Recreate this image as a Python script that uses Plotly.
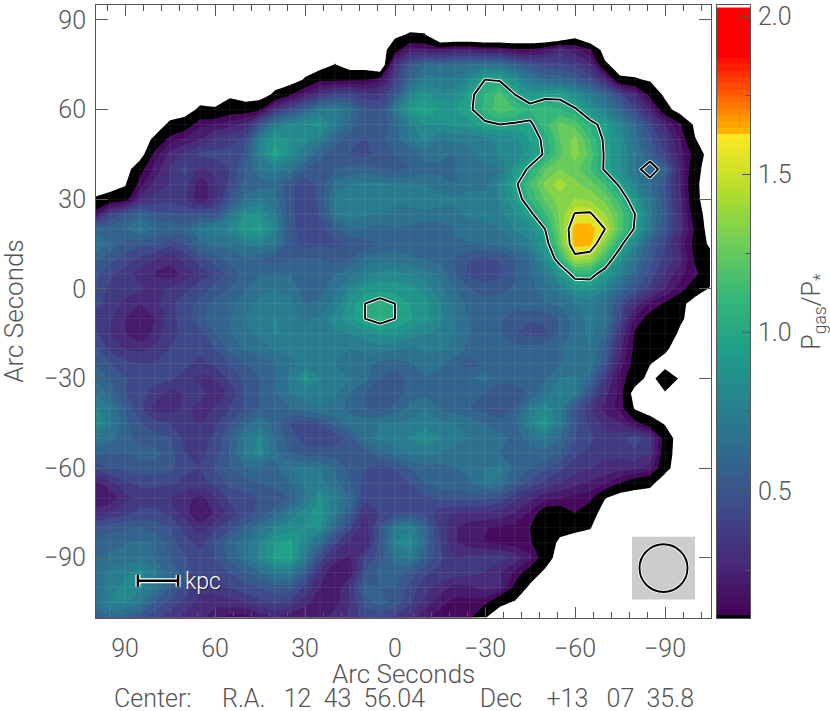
"""Gas to stellar pressure ratio map, contour fill with beam and scale bar."""

import numpy as np
import plotly.graph_objects as go
from plotly.colors import hex_to_rgb, sequential

# arcsec offsets of the map nodes, columns run east to west
ra_offset = list(range(100, -110, -5))
dec_offset = list(range(95, -115, -5))

# P_gas/P_* per row, top row first: (first column, values). None is off the map,
# small negatives just past the edge place the outline between two nodes
N = None
ratio_rows = [
    (0, []),
    (0, []),
    (20, [-.02, .01, .005, -.15, -.15, -.15, -.15, -.15, -.15, -.15, -.15, -.15, -.05, -.15]),
    (20, [.06, .22, .2, .17, .22, .22, .17, .17, .12, .12, .17, .3, .2, .12]),
    (16, [.005, N, N, -.12, .32, .52, .62, .62, .62, .64, .68, .66, .58, .5, .44, .42, .38, .28, .02]),
    (14, [.01, .09, .08, .09, .09, .15, .38, .6, .74, .72, .72, .82, 1.0, .98, .85, .72, .62, .6, .55, .45, .28, .02, .01, -.01]),
    (9, [-.02, N, N, .02, .09, .22, .32, .42, .42, .35, .35, .5, .78, .88, .8, .82, .97, 1.08, 1.18, 1.0, .88, .95, .96, .85, .72, .6, .42, .28, .08, -.02]),
    (7, [.02, .01, .06, .055, .09, .33, .45, .58, .72, .75, .65, .5, .48, .72, .92, 1.0, .92, .92, .98, 1.1, 1.2, 1.15, 1.08, 1.12, 1.08, 1.02, .88, .75, .6, .42, .25, .045]),
    (5, [.02, .055, .16, .18, .22, .28, .5, .72, .8, .85, .88, .72, .6, .5, .48, .6, .75, .85, .85, .88, .9, .97, 1.0, .98, .97, 1.12, 1.25, 1.2, 1.05, .95, .78, .62, .42, .25, .12, -.02]),
    (4, [.02, .14, .2, .25, .35, .38, .42, .75, .92, .85, .8, .75, .6, .5, .47, .52, .6, .7, .8, .7, .72, .72, .75, .8, .82, .93, 1.03, 1.22, 1.33, 1.15, .97, .84, .66, .5, .35, .18, .005]),
    (4, [.14, .28, .35, .42, .42, .42, .5, .78, .98, .82, .72, .58, .5, .47, .45, .5, .55, .58, .65, .65, .62, .68, .75, .78, .8, .9, 1.02, 1.2, 1.34, 1.2, .98, .85, .72, .55, .4, .22, .075]),
    (3, [.075, .2, .33, .42, .3, .35, .4, .55, .7, .75, .68, .55, .5, .55, .58, .6, .55, .52, .55, .6, .6, .62, .68, .68, .7, .9, 1.03, 1.22, 1.3, 1.26, 1.15, .98, .85, .7, .62, .58, .25, .035]),
    (2, [-.01, .14, .28, .33, .38, .2, .3, .42, .58, .58, .62, .5, .42, .5, .65, .7, .72, .72, .7, .7, .7, .66, .62, .66, .66, .8, .97, 1.15, 1.32, 1.42, 1.32, 1.26, 1.14, .97, .75, .62, .48, .25, .02]),
    (0, [.01, .045, .06, .28, .35, .38, .33, .2, .3, .5, .65, .72, .65, .5, .42, .5, .72, .78, .76, .72, .72, .72, .75, .72, .72, .75, .75, .78, .93, 1.08, 1.24, 1.34, 1.38, 1.36, 1.28, 1.1, .9, .7, .5, .28, .025]),
    (0, [.15, .4, .5, .6, .5, .48, .48, .5, .48, .68, .85, .85, .72, .5, .42, .48, .7, .75, .72, .7, .68, .68, .68, .68, .68, .72, .72, .75, .85, .97, 1.12, 1.32, 1.51, 1.52, 1.38, 1.2, 1.0, .72, .52, .3, .055]),
    (0, [.6, .6, .62, .72, .62, .6, .58, .72, .75, .8, .92, .96, .78, .52, .42, .44, .55, .62, .62, .6, .62, .6, .58, .58, .63, .66, .68, .7, .78, .82, 1.0, 1.3, 1.65, 1.65, 1.5, 1.2, .98, .7, .5, .3, .09]),
    (0, [.7, .62, .52, .5, .5, .42, .48, .6, .65, .65, .72, .75, .7, .5, .45, .47, .45, .5, .52, .55, .55, .55, .55, .58, .62, .62, .62, .65, .7, .76, .92, 1.25, 1.64, 1.63, 1.32, 1.05, .78, .55, .4, .22, .08, -.02]),
    (0, [.58, .5, .45, .38, .33, .28, .35, .45, .52, .58, .62, .55, .52, .55, .55, .55, .52, .55, .65, .68, .68, .65, .62, .6, .54, .47, .46, .48, .55, .62, .85, 1.08, 1.43, 1.38, 1.12, .88, .68, .52, .38, .28, .09, .045]),
    (0, [.5, .42, .35, .3, .24, .2, .28, .35, .42, .5, .58, .62, .62, .62, .6, .62, .62, .68, .75, .8, .8, .78, .74, .68, .55, .45, .42, .45, .54, .62, .72, .88, 1.06, 1.06, .93, .75, .6, .45, .32, .2, .12, .06]),
    (0, [.48, .38, .38, .34, .3, .34, .38, .44, .5, .55, .62, .68, .7, .66, .6, .6, .68, .8, .88, .9, .9, .88, .82, .72, .62, .55, .52, .53, .56, .6, .66, .74, .88, .9, .78, .62, .5, .38, .25, .14, .06, -.01]),
    (0, [.42, .38, .3, .25, .3, .38, .44, .5, .58, .6, .68, .72, .76, .72, .62, .64, .72, .88, 1.0, 1.06, 1.0, .92, .88, .78, .68, .6, .58, .58, .58, .6, .62, .64, .7, .72, .66, .46, .3, .16, .09, .035]),
    (0, [.38, .34, .25, .2, .25, .36, .45, .52, .62, .62, .7, .75, .78, .75, .68, .72, .82, .9, 1.0, 1.06, 1.0, .94, .88, .8, .7, .62, .58, .56, .52, .48, .5, .56, .66, .72, .68, .42, .16, .07, .05, .02]),
    (0, [.42, .32, .25, .18, .28, .38, .42, .45, .55, .62, .68, .72, .78, .76, .74, .76, .76, .78, .82, .88, .88, .82, .78, .76, .7, .62, .58, .55, .48, .45, .45, .56, .66, .72, .62, .32, .09, .05, .08, -.02]),
    (0, [.5, .38, .32, .3, .34, .4, .44, .42, .48, .58, .64, .65, .72, .72, .75, .76, .72, .7, .72, .74, .72, .68, .72, .72, .68, .6, .55, .56, .58, .58, .6, .62, .68, .7, .55, .28, .08, .05, .02]),
    (0, [.55, .48, .42, .4, .4, .42, .42, .38, .42, .48, .55, .6, .62, .68, .72, .72, .7, .68, .66, .6, .58, .62, .66, .64, .58, .5, .6, .62, .6, .62, .62, .62, .64, .68, .5, .22, .07, .005, -.04]),
    (0, [.62, .55, .48, .45, .42, .42, .36, .3, .32, .42, .5, .55, .62, .72, .88, .78, .72, .7, .65, .55, .5, .58, .62, .6, .62, .62, .65, .58, .58, .6, .62, .7, .72, .6, .35, .14, .06, -.04, .07, -.01]),
    (0, [.7, .6, .48, .42, .38, .28, .34, .36, .28, .34, .48, .55, .62, .7, .72, .72, .72, .62, .55, .48, .5, .6, .6, .58, .56, .58, .55, .5, .5, .56, .68, .78, .72, .48, .28, .15, N, N, -.01]),
    (0, [.8, .7, .55, .42, .3, .28, .34, .3, .33, .4, .48, .55, .58, .62, .68, .7, .66, .6, .55, .52, .58, .65, .7, .62, .58, .55, .52, .48, .55, .72, .82, .72, .5, .35, .22, .15, -.01]),
    (0, [.85, .72, .58, .48, .42, .4, .34, .32, .38, .48, .6, .68, .6, .47, .44, .48, .6, .66, .66, .7, .7, .72, .75, .72, .7, .68, .62, .58, .62, .78, .9, .72, .5, .38, .3, .25, .14, .05, -.01]),
    (0, [.72, .65, .58, .52, .5, .48, .38, .36, .42, .55, .7, .8, .62, .52, .44, .42, .42, .52, .68, .72, .75, .78, .82, .78, .72, .7, .68, .66, .6, .65, .72, .62, .48, .42, .35, .38, .45, .35, .06]),
    (0, [.6, .55, .55, .58, .58, .52, .4, .38, .44, .56, .72, .82, .65, .55, .5, .52, .52, .52, .52, .6, .66, .72, .74, .7, .68, .66, .66, .62, .62, .6, .6, .55, .42, .38, .35, .35, .38, .32, .05]),
    (0, [.42, .48, .5, .52, .52, .5, .42, .4, .48, .55, .62, .62, .6, .7, .72, .7, .62, .52, .48, .45, .48, .55, .6, .6, .62, .64, .7, .72, .6, .55, .5, .42, .36, .33, .3, .28, .28, .22, .03]),
    (0, [.22, .3, .38, .42, .42, .42, .38, .38, .42, .5, .52, .55, .58, .62, .72, .72, .65, .55, .45, .42, .4, .48, .55, .6, .6, .62, .72, .68, .55, .45, .38, .33, .28, .24, .2, .1, .045, .025]),
    (0, [.18, .2, .3, .36, .36, .32, .28, .22, .32, .42, .45, .48, .5, .55, .68, .85, .75, .62, .42, .42, .4, .42, .45, .5, .5, .5, .5, .45, .35, .28, .2, .18, .15, .13, .005]),
    (0, [.28, .32, .38, .42, .42, .38, .28, .16, .26, .36, .45, .5, .6, .72, .82, .9, .72, .55, .32, .4, .42, .48, .45, .36, .32, .32, .32, .3, .25, .16, .06, .05, .1, .055]),
    (0, [.5, .52, .54, .55, .52, .48, .38, .28, .38, .45, .58, .68, .78, .82, .85, .85, .6, .42, .28, .5, .72, .76, .6, .38, .26, .2, .18, .16, .15, .1, .05, .035, .025, .005]),
    (0, [.58, .6, .62, .64, .62, .52, .42, .38, .48, .6, .68, .78, .92, .96, .78, .62, .42, .3, .25, .5, .78, .82, .62, .4, .26, .2, .17, .15, .14, .11, .06, -.02]),
    (0, [.62, .64, .66, .68, .62, .55, .48, .42, .48, .58, .68, .8, .95, .98, .72, .45, .28, .24, .4, .52, .65, .74, .55, .42, .32, .35, .38, .36, .3, .2, .055]),
    (0, [.68, .72, .76, .8, .72, .6, .52, .42, .45, .48, .55, .62, .72, .72, .55, .3, .18, .2, .48, .58, .6, .52, .42, .38, .36, .36, .32, .26, .16, .06, -.02]),
    (0, [.62, .75, .8, .8, .68, .55, .45, .35, .36, .4, .45, .48, .52, .52, .38, .25, .2, .34, .58, .55, .55, .45, .35, .3, .22, .24, .28, .26, .08, -.02]),
    (0, [.68, .78, .78, .72, .55, .45, .38, .3, .28, .3, .32, .38, .42, .38, .28, .2, .22, .32, .52, .58, .52, .42, .3, .2, .15, .15, .13, .02, -.01]),
    (0, [.55, .62, .6, .5, .42, .35, .3, .28, .2, .14, .14, .2, .25, .2, .18, .22, .28, .35, .42, .42, .38, .3, .2, .14, .14, .12, .005]),
]

# the small closed contour near (-85, 39) has no counterpart in the fill
diamond_row, diamond_col, diamond_level = 11, 37, 1.49

x_ticks = [90, 60, 30, 0, -30, -60, -90]
y_ticks = [90, 60, 30, 0, -30, -60, -90]
bar_ticks = [0.5, 1.0, 1.5, 2.0]
contour_levels = [1.0, 1.5]

OUTSIDE = -0.05
LEVEL_START = -0.05
LEVEL_STEP = 0.075
LEVEL_END = 2.05
z = np.full((len(dec_offset), len(ra_offset)), OUTSIDE)
for j, (first, vals) in enumerate(ratio_rows):
    for i, v in enumerate(vals):
        if v is not None:
            z[j, first + i] = v
z_lines = z.copy()
z_lines[diamond_row, diamond_col] = diamond_level
# stretch the part below 0.1 so the white edge stays at 0 while levels fall on 0.1
z_fill = np.where(z < 0.1, 1.5 * z - 0.05, z)


def stop(v):
    # contour fills map the colorscale from start-step/2 to end+step/2
    lo = LEVEL_START - LEVEL_STEP / 2
    return (v - lo) / (LEVEL_END + LEVEL_STEP / 2 - lo)


viridis = sequential.Viridis
colorscale = [[0, "#ffffff"], [0.01, "#ffffff"], [0.012, "#000000"], [stop(0.1), "#000000"]]
for k, c in enumerate(viridis):
    r, g, b = hex_to_rgb(c)
    colorscale.append([stop(0.1 + 1.52 * k / (len(viridis) - 1)), f"rgb({r},{g},{b})"])
colorscale += [[stop(1.62), "rgb(255,190,0)"], [stop(1.88), "rgb(255,0,0)"], [1, "rgb(255,0,0)"]]

FONT = dict(family="Roboto", size=25, color="#555555", weight=300)
AXIS = "#555555"

fig = go.Figure()
fig.add_trace(go.Contour(
    x=ra_offset, y=dec_offset, z=z_fill,
    colorscale=colorscale, showscale=False, autocontour=False,
    contours=dict(start=LEVEL_START, end=LEVEL_END, size=LEVEL_STEP, coloring="fill"),
    line=dict(width=0, smoothing=0), hoverinfo="skip",
))
for colour, width in [("white", 3.6), ("black", 1.9)]:
    fig.add_trace(go.Contour(
        x=ra_offset, y=dec_offset, z=z_lines,
        showscale=False, autocontour=False,
        contours=dict(start=contour_levels[0], end=contour_levels[1], size=0.5, coloring="lines"),
        colorscale=[[0, colour], [1, colour]],
        line=dict(width=width, color=colour, smoothing=0), hoverinfo="skip",
    ))

# colour bar drawn as its own little heatmap
bar_y = np.arange(0.097, 2.03, 0.02)
fig.add_trace(go.Heatmap(
    x=[0, 1], y=bar_y, z=[[v, v] for v in bar_y], xaxis="x2", yaxis="y2",
    colorscale=colorscale, zmin=LEVEL_START - LEVEL_STEP / 2, zmax=LEVEL_END + LEVEL_STEP / 2,
    showscale=False, hoverinfo="skip",
))

W, H = 830, 711
fig.update_layout(
    width=W, height=H, autosize=False, margin=dict(l=0, r=0, t=0, b=0),
    paper_bgcolor="white", plot_bgcolor="white", showlegend=False, font=FONT,
    xaxis=dict(
        domain=[96 / W, 711 / W], range=[99.67, -105.33], tickvals=x_ticks, ticks="inside", ticklen=11,
        tickcolor=AXIS, tickfont=FONT, ticklabelstandoff=8, showgrid=False, zeroline=False, showline=True,
        linecolor=AXIS, mirror="ticks", anchor="y",
        minor=dict(dtick=6, tick0=0, ticks="inside", ticklen=6, tickcolor=AXIS),
    ),
    yaxis=dict(
        domain=[(H - 618) / H, (H - 2) / H], range=[-110.33, 95], tickvals=y_ticks, ticks="inside", ticklen=12,
        tickcolor=AXIS, tickfont=FONT, ticklabelstandoff=4, showgrid=False, zeroline=False, showline=True,
        linecolor=AXIS, mirror="ticks", anchor="x",
    ),
    xaxis2=dict(
        domain=[717 / W, 750 / W], range=[0, 1], showticklabels=False, ticks="", showgrid=False, zeroline=False,
        showline=True, linecolor=AXIS, mirror=True, anchor="y2",
    ),
    yaxis2=dict(
        domain=[(H - 618) / H, (H - 2) / H], range=[0.0975, 2.035], side="right", anchor="x2", tickvals=bar_ticks,
        tickformat=".1f", ticks="inside", ticklen=8, tickcolor=AXIS, tickfont=FONT, ticklabelstandoff=2,
        ticklabeloverflow="allow", showgrid=False, zeroline=False, showline=True, linecolor=AXIS, mirror=True,
        minor=dict(dtick=0.25, tick0=0, ticks="inside", ticklen=5, tickcolor=AXIS),
    ),
)

# faint seams along the map grid, as in the original raster
seam = dict(color="rgba(255,255,255,0.07)", width=1)
shapes = []
for a in ra_offset[1:]:
    shapes.append(dict(type="line", xref="x", yref="y", x0=a, x1=a, y0=-110.33, y1=95, line=seam, layer="above"))
for d in dec_offset[1:]:
    shapes.append(dict(type="line", xref="x", yref="y", x0=99.67, x1=-105.33, y0=d, y1=d, line=seam, layer="above"))

# beam box and beam circle, lower right
beam_x, beam_y, beam_half, beam_r = -89.5, -93.5, 10.5, 8.0
shapes.append(dict(type="rect", xref="x", yref="y", x0=beam_x - beam_half, x1=beam_x + beam_half,
                   y0=beam_y - beam_half, y1=beam_y + beam_half, fillcolor="#cccccc", line=dict(width=0)))
for colour, width in [("white", 3.6), ("black", 1.9)]:
    shapes.append(dict(type="circle", xref="x", yref="y", x0=beam_x - beam_r, x1=beam_x + beam_r,
                       y0=beam_y - beam_r, y1=beam_y + beam_r, line=dict(color=colour, width=width)))

# scale bar
bar_x0, bar_x1, bar_yc, bar_cap = 85.7, 72.3, -97.7, 2.0
for colour, width in [("white", 5), ("black", 2.5)]:
    line = dict(color=colour, width=width)
    shapes.append(dict(type="line", xref="x", yref="y", x0=bar_x0, x1=bar_x1, y0=bar_yc, y1=bar_yc, line=line))
    for bx in (bar_x0, bar_x1):
        shapes.append(dict(type="line", xref="x", yref="y", x0=bx, x1=bx,
                           y0=bar_yc - bar_cap, y1=bar_yc + bar_cap, line=line))
fig.update_layout(shapes=shapes)


def label(text, x, y, **kw):
    fig.add_annotation(text=text, x=x / W, y=1 - y / H, xref="paper", yref="paper", showarrow=False,
                       xanchor="center", yanchor="middle", font=kw.pop("font", FONT), **kw)


sp = "\u00a0"
bottom_line = ("Center:" + sp * 5 + "R.A." + sp * 3 + "12" + sp * 2 + "43" + sp * 2 + "56.04" + sp * 9
               + "Dec" + sp * 4 + "+13" + sp * 3 + "07" + sp * 2 + "35.8")
title_font = dict(FONT, size=26)
label("Arc Seconds", 403, 674, font=title_font)
label("Arc Seconds", 14, 310, textangle=-90, font=title_font)
label(bottom_line, 403.5, 698)
label("P<sub>gas</sub>/P<sub>*</sub>", 813, 310, textangle=-90)
label("kpc", 203, 581, font=dict(family="Roboto", size=23, color="white", weight=300, shadow="1px 1px 1px #222"))

fig.write_html("out.html", config=dict(displayModeBar=False), post_script="document.body.style.margin='0';")
